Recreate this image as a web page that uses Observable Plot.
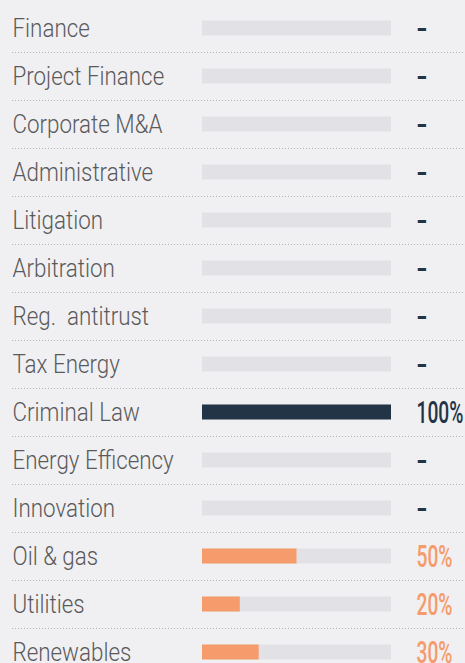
<!DOCTYPE html>
<html><head><meta charset="utf-8">
<script src="https://cdn.jsdelivr.net/npm/d3@7"></script>
<script src="https://cdn.jsdelivr.net/npm/@observablehq/plot@0.6"></script>
<style>html,body{margin:0;padding:0;background:#f0f0f2;} svg{display:block;}</style>
</head><body><div id="chart"></div>
<script>
const categories = ["Finance","Project Finance","Corporate M&A","Administrative","Litigation","Arbitration","Reg.  antitrust","Tax Energy","Criminal Law","Energy Efficency","Innovation","Oil & gas","Utilities","Renewables"];
const values = [null,null,null,null,null,null,null,null,100,null,null,50,20,30];
const groups = ["Practice","Practice","Practice","Practice","Practice","Practice","Practice","Practice","Practice","Practice","Practice","Sector","Sector","Sector"];
const fullScale = 100;

const data = categories.map((c,i)=>({category:c, value:values[i], group:groups[i], full:fullScale, label: values[i]==null ? "-" : values[i]+"%"}));

const chart = Plot.plot({
  width:465, height:663, margin:0,
  style:{background:"#f0f0f2", fontFamily:"Roboto, sans-serif"},
  x:{domain:[0,fullScale], range:[202,391], axis:null},
  y:{domain:categories, range:[3.5,675.5], padding:0, axis:null},
  color:{domain:["Practice","Sector"], range:["#233447","#f59b6c"]},
  marks:[
    Plot.ruleY(categories.slice(0,-1), {y: d=>d, dy:24, insetLeft:12, stroke:"#b2b2b9", strokeDasharray:"1,2"}),
    Plot.barX(data, {y:"category", x:"full", fill:"#e2e2e6", insetTop:16.5, insetBottom:16.5}),
    Plot.barX(data.filter(d=>d.value!=null), {y:"category", x:"value", fill:"group", insetTop:16.5, insetBottom:16.5}),
    Plot.text(data, {y:"category", text:"category", frameAnchor:"left", textAnchor:"start", dx:12, fill:"#5a5a5c", fontSize:26, fontWeight:300}),
    Plot.text(data, {y:"category", text:"label", frameAnchor:"right", textAnchor:"start", dx:-49, fill:"group", fontSize:32, fontWeight:500})
  ]
});
document.getElementById("chart").append(chart);
const textGroups = chart.querySelectorAll('g[aria-label="text"]');
textGroups[0].querySelectorAll("text").forEach(t=>{
  const w=t.getComputedTextLength();
  t.setAttribute("textLength", (w*0.86).toFixed(1));
  t.setAttribute("lengthAdjust","spacingAndGlyphs");
});
textGroups[1].querySelectorAll("text").forEach(t=>{
  if (t.textContent.length>1){
    const w=t.getComputedTextLength();
    t.setAttribute("textLength", (w*0.6).toFixed(1));
    t.setAttribute("lengthAdjust","spacingAndGlyphs");
  }
});
</script>
</body></html>
